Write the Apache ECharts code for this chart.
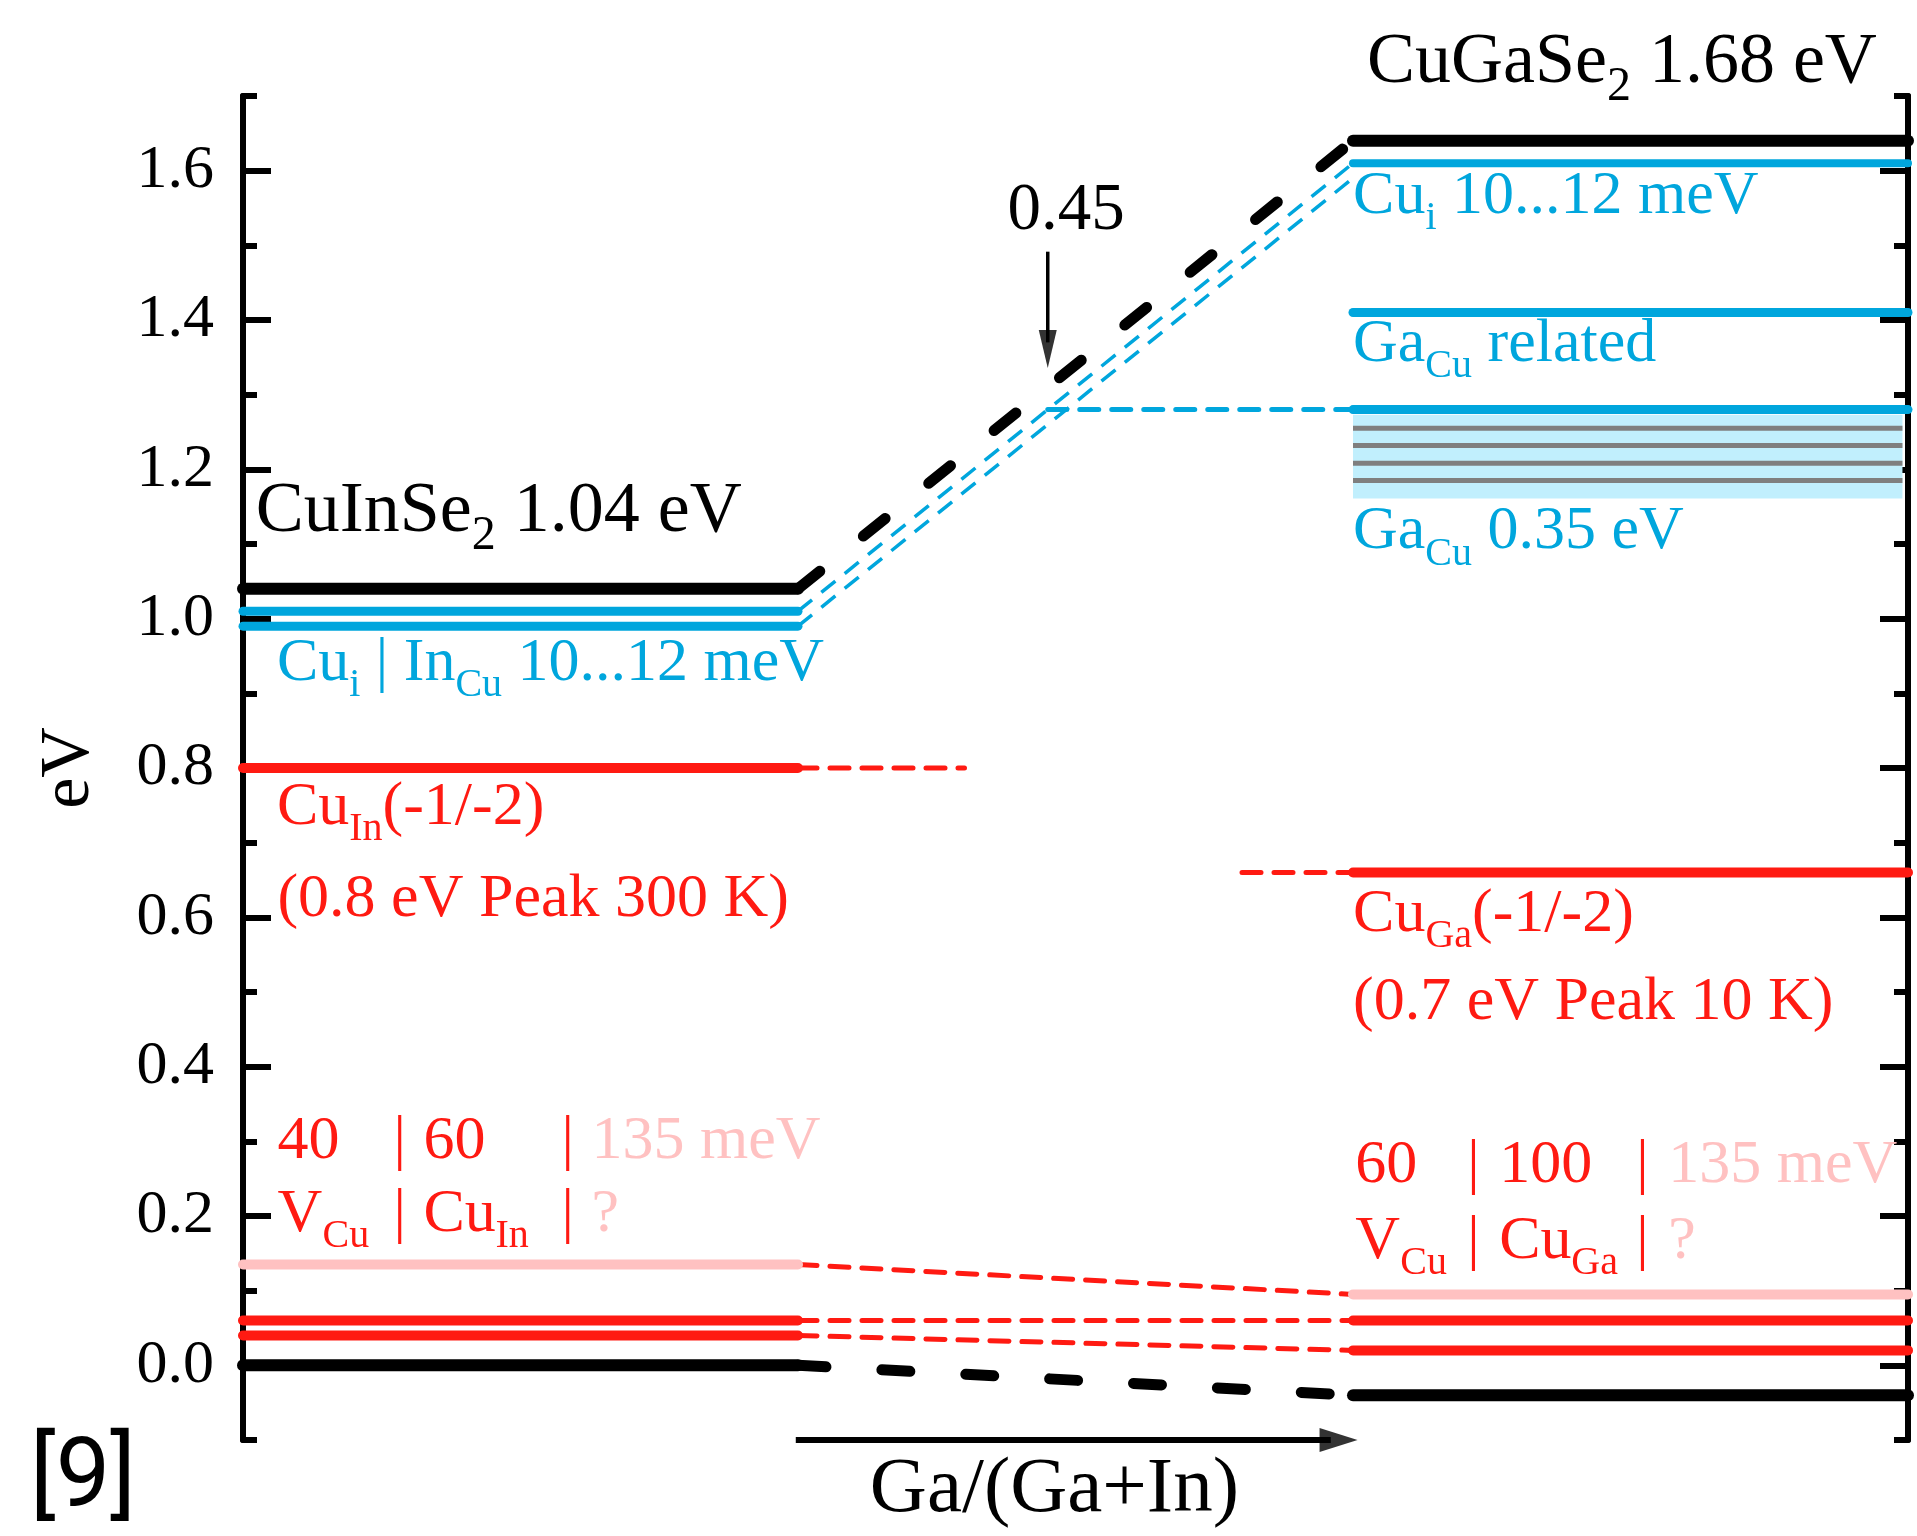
<!DOCTYPE html>
<html>
<head>
<meta charset="utf-8">
<title>Defect levels CuInSe2 - CuGaSe2</title>
<script src="https://cdn.jsdelivr.net/npm/echarts@6/dist/echarts.min.js"></script>
<style>
  html, body { margin: 0; padding: 0; background: #fff; }
  #chart { width: 1917px; height: 1536px; }
</style>
</head>
<body>
<div id="chart"></div>
<script>
// x: 0..1 = CuInSe2, 1..2 = Ga/(Ga+In) transition, 2..3 = CuGaSe2
// y: energy in eV (valence band of CuInSe2 = 0)
var bandCIS = [0.00, 1.04];            // VB, CB
var bandCGS = [-0.04, 1.64];
var donorCIS = [1.01, 0.99];           // Cu_i | In_Cu
var donorCGS = [1.61, 1.59];           // Cu_i (2nd value: end of dashed guide)
var gaCuCGS = [1.41, 1.28];            // Ga_Cu related, Ga_Cu 0.35 eV
var gaCuBand = [1.161, 1.273];
var gaCuSub = [1.255, 1.232, 1.208, 1.185];
var deepCIS = [0.80];                  // Cu_In(-1/-2)
var deepCGS = [0.66];                  // Cu_Ga(-1/-2)
var deepGuideX = [1.3, 1.8];
var acceptCIS = [0.04, 0.06, 0.135];   // V_Cu, Cu_In, ?
var acceptCGS = [0.02, 0.06, 0.095];   // V_Cu, Cu_Ga, ?
var crossGa = 0.45;                    // Ga/(Ga+In)
var yMajor = [0.0, 0.2, 0.4, 0.6, 0.8, 1.0, 1.2, 1.4, 1.6];
var yMinor = [-0.1, 0.1, 0.3, 0.5, 0.7, 0.9, 1.1, 1.3, 1.5, 1.7];

var BLACK = '#000000', BLUE = '#00a6dd', RED = '#ff1a12', PINK = '#ffc1c1',
    GRAY = '#7f7f7f', BAND = '#c1effd';
var FONT = "'Liberation Serif', 'Times New Roman', serif";

var chart = echarts.init(document.getElementById('chart'));
var series = [];

function seg(pts, color, width, dash, cap, z) {
  series.push({
    type: 'line', data: pts, symbol: 'none', silent: true, clip: false,
    z: z || 3, animation: false,
    lineStyle: { color: color, width: width, type: dash || 'solid', cap: cap || 'round' }
  });
}

// Ga_Cu band in CuGaSe2
series.push({
  type: 'line', data: [[2, gaCuSub[0]], [2.99, gaCuSub[0]]], symbol: 'none', silent: true,
  z: 1, lineStyle: { width: 0 }, animation: false,
  markArea: { silent: true, itemStyle: { color: BAND },
    data: [[{ coord: [2, gaCuBand[1]] }, { coord: [2.99, gaCuBand[0]] }]] }
});
gaCuSub.forEach(function (e) { seg([[2.0, e], [2.99, e]], GRAY, 5, 'solid', 'butt', 2); });

// dashed guides across the transition
var blackDash = [28, 56], fineDash = [19, 13];
seg([[1, bandCIS[1]], [2, bandCGS[1]]], BLACK, 11, blackDash, 'round', 2);
seg([[1, bandCIS[0]], [2, bandCGS[0]]], BLACK, 11, blackDash, 'round', 2);
seg([[1, donorCIS[0]], [2, donorCGS[0]]], BLUE, 3.5, [18, 12], 'butt', 2);
seg([[1, donorCIS[1]], [2, donorCGS[1]]], BLUE, 3.5, [18, 12], 'butt', 2);
seg([[1 + crossGa, gaCuCGS[1]], [2, gaCuCGS[1]]], BLUE, 5, fineDash, 'round', 2);
seg([[1, deepCIS[0]], [deepGuideX[0], deepCIS[0]]], RED, 5, fineDash, 'round', 2);
seg([[deepGuideX[1], deepCGS[0]], [2, deepCGS[0]]], RED, 5, fineDash, 'round', 2);
acceptCIS.forEach(function (e, i) {
  seg([[1, e], [2, acceptCGS[i]]], RED, 5, fineDash, 'round', 2);
});

// CuInSe2 levels
seg([[0, bandCIS[0]], [1, bandCIS[0]]], BLACK, 12);
seg([[0, bandCIS[1]], [1, bandCIS[1]]], BLACK, 12);
donorCIS.forEach(function (e) { seg([[0, e], [1, e]], BLUE, 9); });
seg([[0, deepCIS[0]], [1, deepCIS[0]]], RED, 10);
acceptCIS.forEach(function (e, i) { seg([[0, e], [1, e]], i === 2 ? PINK : RED, 10); });

// CuGaSe2 levels
seg([[2, bandCGS[0]], [3, bandCGS[0]]], BLACK, 12);
seg([[2, bandCGS[1]], [3, bandCGS[1]]], BLACK, 12);
seg([[2, donorCGS[0]], [3, donorCGS[0]]], BLUE, 8);
gaCuCGS.forEach(function (e) { seg([[2, e], [3, e]], BLUE, 9); });
seg([[2, deepCGS[0]], [3, deepCGS[0]]], RED, 10);
acceptCGS.forEach(function (e, i) { seg([[2, e], [3, e]], i === 2 ? PINK : RED, 10); });

// arrows
seg([[1 + crossGa, 1.4915], [1 + crossGa, 1.37]], BLACK, 3.5, 'solid', 'butt', 4);
seg([[0.996, -0.1], [1.96, -0.1]], BLACK, 6, 'solid', 'butt', 4);
series.push({
  type: 'scatter', silent: true, clip: false, z: 4, animation: false,
  itemStyle: { color: BLACK },
  data: [
    { value: [1 + crossGa, 1.361], symbol: 'triangle', symbolSize: [18, 38], symbolRotate: 180 },
    { value: [1.974, -0.1], symbol: 'triangle', symbolSize: [24, 38], symbolRotate: -90 }
  ]
});

// text
function main(color, size, extra) {
  return Object.assign({ color: color, fontFamily: FONT, fontSize: size, lineHeight: 84 }, extra || {});
}
function sub(color, extra) {
  return Object.assign({ color: color, fontFamily: FONT, fontSize: 40, lineHeight: 40,
    verticalAlign: 'bottom' }, extra || {});
}
var rich = {
  bk: { color: BLACK, fontFamily: FONT, fontSize: 72, lineHeight: 96 },
  bks: { color: BLACK, fontFamily: FONT, fontSize: 48, lineHeight: 36, verticalAlign: 'bottom' },
  bk45: { color: BLACK, fontFamily: FONT, fontSize: 67, lineHeight: 80 },
  bkx: { color: BLACK, fontFamily: FONT, fontSize: 79, lineHeight: 90 },
  bl: main(BLUE, 62), bls: sub(BLUE),
  rd: main(RED, 62), rds: sub(RED), pk: main(PINK, 62),
  l1: main(RED, 62, { width: 116 }), l2: main(RED, 62, { width: 138 }),
  lv: main(RED, 62, { width: 45 }), lc: main(RED, 62, { width: 72 }),
  ls1: sub(RED, { width: 71 }), ls2: sub(RED, { width: 66 }),
  q1: main(RED, 62, { width: 112 }), q2: main(RED, 62, { width: 137 }),
  qs1: sub(RED, { width: 67 }), qs2: sub(RED, { width: 65 }),
  bar: main(RED, 62, { width: 30 }), barR: main(RED, 62, { width: 32 })
};

var notes = [
  [0.023, 1.143, '{bk|CuInSe}{bks|2}{bk| 1.04 eV}', 'right'],
  [2.025, 1.744, '{bk|CuGaSe}{bks|2}{bk| 1.68 eV}', 'right'],
  [0.061, 0.940, '{bl|Cu}{bls|i}{bl| | In}{bls|Cu}{bl| 10...12 meV}', 'right'],
  [0.061, 0.747, '{rd|Cu}{rds|In}{rd|(-1/-2)}', 'right'],
  [0.062, 0.624, '{rd|(0.8 eV Peak 300 K)}', 'right'],
  [0.062, 0.300, '{l1|40}{bar||}{l2|60}{bar||}{pk|135 meV}', 'right'],
  [0.062, 0.202, '{lv|V}{ls1|Cu}{bar||}{lc|Cu}{ls2|In}{bar||}{pk|?}', 'right'],
  [2.000, 1.565, '{bl|Cu}{bls|i}{bl| 10...12 meV}', 'right'],
  [2.000, 1.367, '{bl|Ga}{bls|Cu}{bl| related}', 'right'],
  [2.000, 1.116, '{bl|Ga}{bls|Cu}{bl| 0.35 eV}', 'right'],
  [2.000, 0.604, '{rd|Cu}{rds|Ga}{rd|(-1/-2)}', 'right'],
  [2.000, 0.485, '{rd|(0.7 eV Peak 10 K)}', 'right'],
  [2.004, 0.267, '{q1|60}{barR||}{q2|100}{barR||}{pk|135 meV}', 'right'],
  [2.004, 0.166, '{lv|V}{qs1|Cu}{barR||}{lc|Cu}{qs2|Ga}{barR||}{pk|?}', 'right'],
  [1.483, 1.545, '{bk45|0.45}', 'inside'],
  [1.462, -0.167, '{bkx|Ga/(Ga+In)}', 'inside']
];

series.push({
  type: 'scatter', silent: true, clip: false, z: 10, animation: false,
  symbolSize: 0.1, itemStyle: { color: BLACK, opacity: 1 },
  label: { show: true, distance: 0, color: BLACK, opacity: 1, rich: rich },
  data: notes.map(function (n) {
    return { value: [n[0], n[1]], label: { position: n[3], formatter: n[2] } };
  })
});

var tickStyle = { color: BLACK, width: 6 };
function yAx(pos, ticks, len, withLabels) {
  return {
    type: 'value', position: pos, min: -0.1, max: 1.7,
    splitLine: { show: false },
    axisLine: { show: true, onZero: false, lineStyle: { color: BLACK, width: 6 } },
    axisTick: { show: true, inside: true, length: len, customValues: ticks, lineStyle: tickStyle },
    axisLabel: withLabels ? {
      show: true, customValues: yMajor, margin: 29,
      formatter: function (v) { return v.toFixed(1); },
      color: BLACK, fontFamily: FONT, fontSize: 62
    } : { show: false }
  };
}
var yLeft = yAx('left', yMajor, 28, true);
yLeft.name = 'eV';
yLeft.nameLocation = 'middle';
yLeft.nameGap = 138;
yLeft.nameTextStyle = { color: BLACK, fontFamily: FONT, fontSize: 70 };

chart.setOption({
  animation: false,
  backgroundColor: '#fff',
  title: {
    text: '[9]', left: 25, top: 1428,
    textStyle: { fontFamily: 'Roboto', fontSize: 97, fontWeight: 'normal', color: BLACK }
  },
  grid: { left: 243, right: 9, top: 96, bottom: 96, containLabel: false },
  xAxis: { type: 'value', min: 0, max: 3, show: false },
  yAxis: [yLeft, yAx('left', yMinor, 14, false), yAx('right', yMajor, 28, false), yAx('right', yMinor, 14, false)],
  series: series
});
</script>
</body>
</html>
